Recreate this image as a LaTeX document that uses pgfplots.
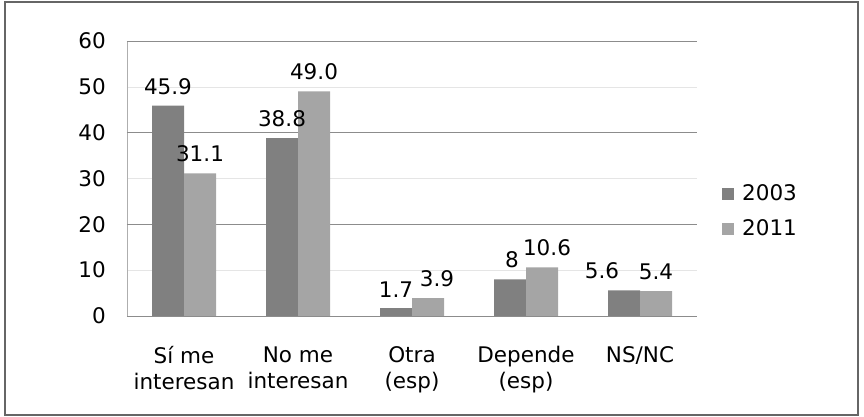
\documentclass[border=0pt]{standalone}
\usepackage{pgfplots}
\pgfplotsset{compat=1.18}
\usepackage{pgfplotstable}
\usepackage{fontspec}
\setmainfont{DejaVu Sans}
\definecolor{cA}{RGB}{128,128,128}
\definecolor{cB}{RGB}{165,165,165}
\definecolor{gridc}{RGB}{140,140,140}
\pgfplotstableread{
x y lab dx
0 45.9 45.9 0
1 38.8 38.8 0
2 1.7 1.7 0
3 8 8 2
4 5.6 5.6 -22
}\dataA
\pgfplotstableread{
x y lab dx
0 31.1 31.1 0
1 49.0 49.0 0
2 3.9 3.9 9
3 10.6 10.6 5
4 5.4 5.4 0
}\dataB
\newcommand{\fs}{\fontsize{21.5}{26}\selectfont}
\begin{document}
\fs
\begin{tikzpicture}[x=1pt,y=1pt]
\path[use as bounding box] (-127,-101) rectangle (737,316);
\draw[gray!80!black, line width=1.2pt] (-122,-99) rectangle (731,314);
\begin{axis}[
  width=570pt, height=275pt, scale only axis,
  ybar=0pt, bar width=32pt,
  xmin=-0.5, xmax=4.5, ymin=0, ymax=60,
  ytick={0,10,...,60},
  xtick=data,
  xticklabels={{Sí me\\interesan},{No me\\interesan},{Otra\\(esp)},{Depende\\(esp)},{NS/NC}},
  /pgf/number format/assume math mode=true,
  x tick label style={align=center, anchor=north, inner sep=0pt, yshift=-26pt, font=\fs},
  y tick label style={anchor=east, inner sep=0pt, xshift=-21pt, font=\fs},
  tick style={draw=none},
  axis x line*=bottom, axis y line*=left,
  x axis line style={gridc, -},
  y axis line style={gridc!70, -},
  ymajorgrids, major grid style={gray!20, line width=0.6pt},
  extra y ticks={20,40,60}, extra y tick labels={},
  extra y tick style={grid=major, major grid style={gridc, line width=0.8pt}},
  nodes near coords,
  point meta=explicit symbolic,
  visualization depends on={\thisrow{dx} \as \dx},
  every node near coord/.append style={anchor=south, inner sep=0pt, yshift=11pt, xshift=\dx pt, font=\fs, black},
  legend style={draw=none, fill=none, at={(1,0.38)}, anchor=west, xshift=25pt, inner sep=0pt,
    font=\fs, cells={anchor=west}, row sep=12pt,
    /tikz/every odd column/.append style={column sep=6pt}},
  legend image code/.code={\fill[#1] (0pt,-6pt) rectangle (12pt,6pt);},
]
\addplot[fill=cA, draw=none] table[x=x, y=y, meta=lab] {\dataA};
\addplot[fill=cB, draw=none] table[x=x, y=y, meta=lab] {\dataB};
\legend{2003,2011}
\end{axis}
\end{tikzpicture}
\end{document}
